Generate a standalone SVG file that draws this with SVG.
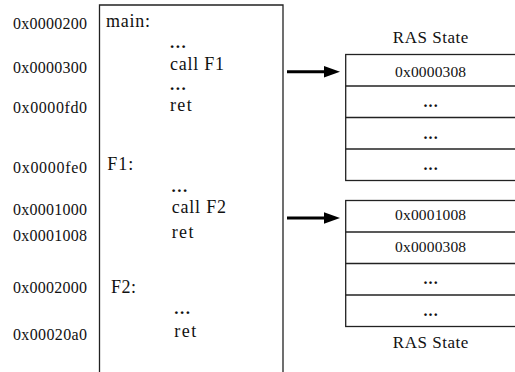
<svg xmlns="http://www.w3.org/2000/svg" width="515" height="372" viewBox="0 0 515 372">
<defs>
<style>
text{font-family:"Liberation Serif","DejaVu Serif",serif;fill:#111;}
.addr{font-size:16px;}
.code{font-size:18px;}
.ras{font-size:15.5px;text-anchor:middle;}
.title{font-size:17px;text-anchor:middle;}
.dots{font-size:17px;font-weight:bold;letter-spacing:1.5px;}
.rdots{font-size:16px;text-anchor:middle;font-weight:bold;letter-spacing:1.2px;}
.box{fill:none;stroke:#222;stroke-width:1.3;}
.conn{stroke:#000;stroke-width:3;fill:none;}
.head{fill:#000;}
</style>
</defs>
<g id="addresses">
<text class="addr" x="13" y="29.3" textLength="74">0x0000200</text>
<text class="addr" x="13" y="72.7" textLength="74">0x0000300</text>
<text class="addr" x="13" y="113.3" textLength="74">0x0000fd0</text>
<text class="addr" x="13" y="172.7" textLength="74">0x0000fe0</text>
<text class="addr" x="13" y="215" textLength="74">0x0001000</text>
<text class="addr" x="13" y="241" textLength="74">0x0001008</text>
<text class="addr" x="13" y="293.3" textLength="74">0x0002000</text>
<text class="addr" x="13" y="340" textLength="74">0x00020a0</text>
</g>
<g id="code">
<path class="box" d="M99.5,373 V5 H283 V373"/>
<text class="code" x="106" y="27.3" textLength="44">main:</text>
<text class="dots" x="170" y="47.5">...</text>
<text class="code" x="170" y="70" textLength="54">call F1</text>
<text class="dots" x="170" y="89.5">...</text>
<text class="code" x="170" y="111" textLength="21.7">ret</text>
<text class="code" x="107.3" y="170" textLength="26">F1:</text>
<text class="dots" x="171.5" y="191.5">...</text>
<text class="code" x="171.7" y="213.3" textLength="54.3">call F2</text>
<text class="code" x="171.7" y="238.3" textLength="21.7">ret</text>
<text class="code" x="111" y="293" textLength="25">F2:</text>
<text class="dots" x="174.3" y="314">...</text>
<text class="code" x="174.3" y="336.7" textLength="22">ret</text>
</g>
<g id="ras1">
<text class="title" x="430.6" y="42.7" textLength="75.6">RAS State</text>
<rect class="box" x="345.7" y="54.5" width="171" height="126"/>
<line class="box" x1="345.7" y1="86" x2="516" y2="86"/>
<line class="box" x1="345.7" y1="117.5" x2="516" y2="117.5"/>
<line class="box" x1="345.7" y1="149" x2="516" y2="149"/>
<text class="ras" x="430.6" y="76.7" textLength="71">0x0000308</text>
<text class="rdots" x="431.2" y="107">...</text>
<text class="rdots" x="431.2" y="138.5">...</text>
<text class="rdots" x="431.2" y="170">...</text>
</g>
<g id="ras2">
<rect class="box" x="345.7" y="200.5" width="171" height="126"/>
<line class="box" x1="345.7" y1="232" x2="516" y2="232"/>
<line class="box" x1="345.7" y1="263.5" x2="516" y2="263.5"/>
<line class="box" x1="345.7" y1="295" x2="516" y2="295"/>
<text class="ras" x="430.6" y="220" textLength="71">0x0001008</text>
<text class="ras" x="430.6" y="251.7" textLength="71">0x0000308</text>
<text class="rdots" x="431.2" y="284">...</text>
<text class="rdots" x="431.2" y="315.5">...</text>
<text class="title" x="430.6" y="348" textLength="75.6">RAS State</text>
</g>
<g id="connectors">
<line class="conn" x1="287" y1="71.7" x2="326" y2="71.7"/>
<polygon class="head" points="324,66 340,71.7 324,77.4"/>
<line class="conn" x1="287" y1="218" x2="326" y2="218"/>
<polygon class="head" points="324,212.3 340,218 324,223.7"/>
</g>
</svg>
